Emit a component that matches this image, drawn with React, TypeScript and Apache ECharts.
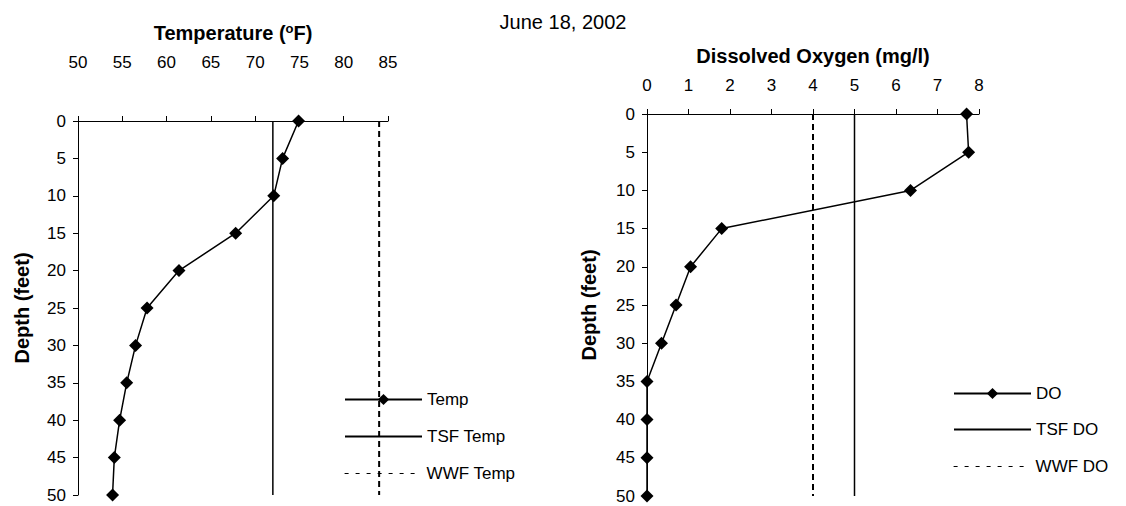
import React, { useEffect, useRef } from "react";
import * as echarts from "echarts";

const depths = [0, 5, 10, 15, 20, 25, 30, 35, 40, 45, 50];
const temp = [74.9, 73.1, 72.1, 67.8, 61.4, 57.8, 56.5, 55.5, 54.7, 54.1, 53.9];
const dissolvedOxygen = [7.7, 7.75, 6.35, 1.8, 1.05, 0.7, 0.35, 0, 0, 0, 0];
const tsfTemp = 72;
const wwfTemp = 84;
const tsfDO = 5;
const wwfDO = 4;
const depthRange = [0, 50];
const tempRange = [50, 85];
const doRange = [0, 8];

const FONT = '"Liberation Sans", Arial, sans-serif';

export default function App() {
  const ref = useRef<HTMLDivElement>(null);
  useEffect(() => {
    if (!ref.current) return;
    const chart = echarts.init(ref.current, null, { renderer: "svg" });
    const tickLabel = { fontSize: 17, color: "#000", fontFamily: FONT };
    const axisLine = { show: true, lineStyle: { color: "#000", width: 1 } };
    const axisTick = { show: true, length: 5, lineStyle: { color: "#000", width: 1 } };
    const nameStyle = { fontSize: 20, fontWeight: "bold", color: "#000", fontFamily: FONT };
    const vline = (v: number) => depthRange.map((d) => [v, d]);
    const legendBase = (left: number, top: number, name: string, dashed = false) => ({
      left,
      top,
      padding: 0,
      orient: "vertical",
      itemWidth: 77,
      itemHeight: 14,
      itemGap: 0,
      selectedMode: false,
      data: [name],
      ...(dashed ? { lineStyle: { width: 1.2, type: [4, 7] } } : {}),
      textStyle: { fontSize: 17, color: "#000", fontFamily: FONT, lineHeight: 14 },
    });
    chart.setOption({
      animation: false,
      backgroundColor: "#fff",
      title: {
        text: "June 18, 2002",
        left: "center",
        top: 7,
        textStyle: { fontSize: 20, fontWeight: "normal", color: "#000", fontFamily: FONT },
      },
      grid: [
        { left: 78, top: 121, width: 310, height: 374 },
        { left: 647, top: 114, width: 332, height: 382 },
      ],
      xAxis: [
        {
          gridIndex: 0,
          type: "value",
          position: "top",
          min: tempRange[0],
          max: tempRange[1],
          interval: 5,
          name: "{b|Temperature (}{s|o}{b|F)}",
          nameLocation: "middle",
          nameGap: 77,
          nameTextStyle: {
            ...nameStyle,
            rich: {
              b: { ...nameStyle, lineHeight: 22 },
              s: { fontSize: 13, fontWeight: "bold", color: "#000", fontFamily: FONT, verticalAlign: "top", lineHeight: 22, padding: [0, 0, 10, 0] },
            },
          },
          axisLine,
          axisTick,
          axisLabel: { ...tickLabel, margin: 50 },
          splitLine: { show: false },
        },
        {
          gridIndex: 1,
          type: "value",
          position: "top",
          min: doRange[0],
          max: doRange[1],
          interval: 1,
          name: "Dissolved Oxygen (mg/l)",
          nameLocation: "middle",
          nameGap: 48,
          nameTextStyle: nameStyle,
          axisLine,
          axisTick,
          axisLabel: { ...tickLabel, margin: 20 },
          splitLine: { show: false },
        },
      ],
      yAxis: [
        {
          gridIndex: 0,
          type: "value",
          inverse: true,
          min: depthRange[0],
          max: depthRange[1],
          interval: 5,
          name: "Depth (feet)",
          nameLocation: "middle",
          nameGap: 46,
          nameTextStyle: nameStyle,
          axisLine,
          axisTick,
          axisLabel: { ...tickLabel, margin: 12 },
          splitLine: { show: false },
        },
        {
          gridIndex: 1,
          type: "value",
          inverse: true,
          min: depthRange[0],
          max: depthRange[1],
          interval: 5,
          name: "Depth (feet)",
          nameLocation: "middle",
          nameGap: 48,
          nameTextStyle: nameStyle,
          axisLine,
          axisTick,
          axisLabel: { ...tickLabel, margin: 12 },
          splitLine: { show: false },
        },
      ],
      legend: [
        legendBase(344, 391, "Temp"),
        legendBase(344, 428, "TSF Temp"),
        legendBase(344, 465, "WWF Temp", true),
        legendBase(953, 385, "DO"),
        legendBase(953, 421, "TSF DO"),
        legendBase(953, 458, "WWF DO", true),
      ],
      series: [
        {
          name: "TSF Temp",
          type: "line",
          xAxisIndex: 0,
          yAxisIndex: 0,
          data: vline(tsfTemp),
          symbol: "none",
          itemStyle: { color: "#000", opacity: 0 },
          lineStyle: { color: "#000", width: 1.5 },
        },
        {
          name: "WWF Temp",
          type: "line",
          xAxisIndex: 0,
          yAxisIndex: 0,
          data: vline(wwfTemp),
          symbol: "none",
          itemStyle: { color: "#000", opacity: 0 },
          lineStyle: { color: "#000", width: 2, type: [6, 4] },
        },
        {
          name: "Temp",
          type: "line",
          xAxisIndex: 0,
          yAxisIndex: 0,
          data: temp.map((t, i) => [t, depths[i]]),
          symbol: "diamond",
          symbolSize: 13,
          itemStyle: { color: "#000" },
          lineStyle: { color: "#000", width: 1.5 },
          z: 3,
        },
        {
          name: "TSF DO",
          type: "line",
          xAxisIndex: 1,
          yAxisIndex: 1,
          data: vline(tsfDO),
          symbol: "none",
          itemStyle: { color: "#000", opacity: 0 },
          lineStyle: { color: "#000", width: 1.5 },
        },
        {
          name: "WWF DO",
          type: "line",
          xAxisIndex: 1,
          yAxisIndex: 1,
          data: vline(wwfDO),
          symbol: "none",
          itemStyle: { color: "#000", opacity: 0 },
          lineStyle: { color: "#000", width: 2, type: [6, 4] },
        },
        {
          name: "DO",
          type: "line",
          xAxisIndex: 1,
          yAxisIndex: 1,
          data: dissolvedOxygen.map((v, i) => [v, depths[i]]),
          symbol: "diamond",
          symbolSize: 13,
          itemStyle: { color: "#000" },
          lineStyle: { color: "#000", width: 1.5 },
          z: 3,
        },
      ],
    });
    return () => chart.dispose();
  }, []);
  return (
    <div
      ref={ref}
      style={{ position: "fixed", left: 0, top: 0, width: 1126, height: 506, background: "#fff" }}
    />
  );
}
